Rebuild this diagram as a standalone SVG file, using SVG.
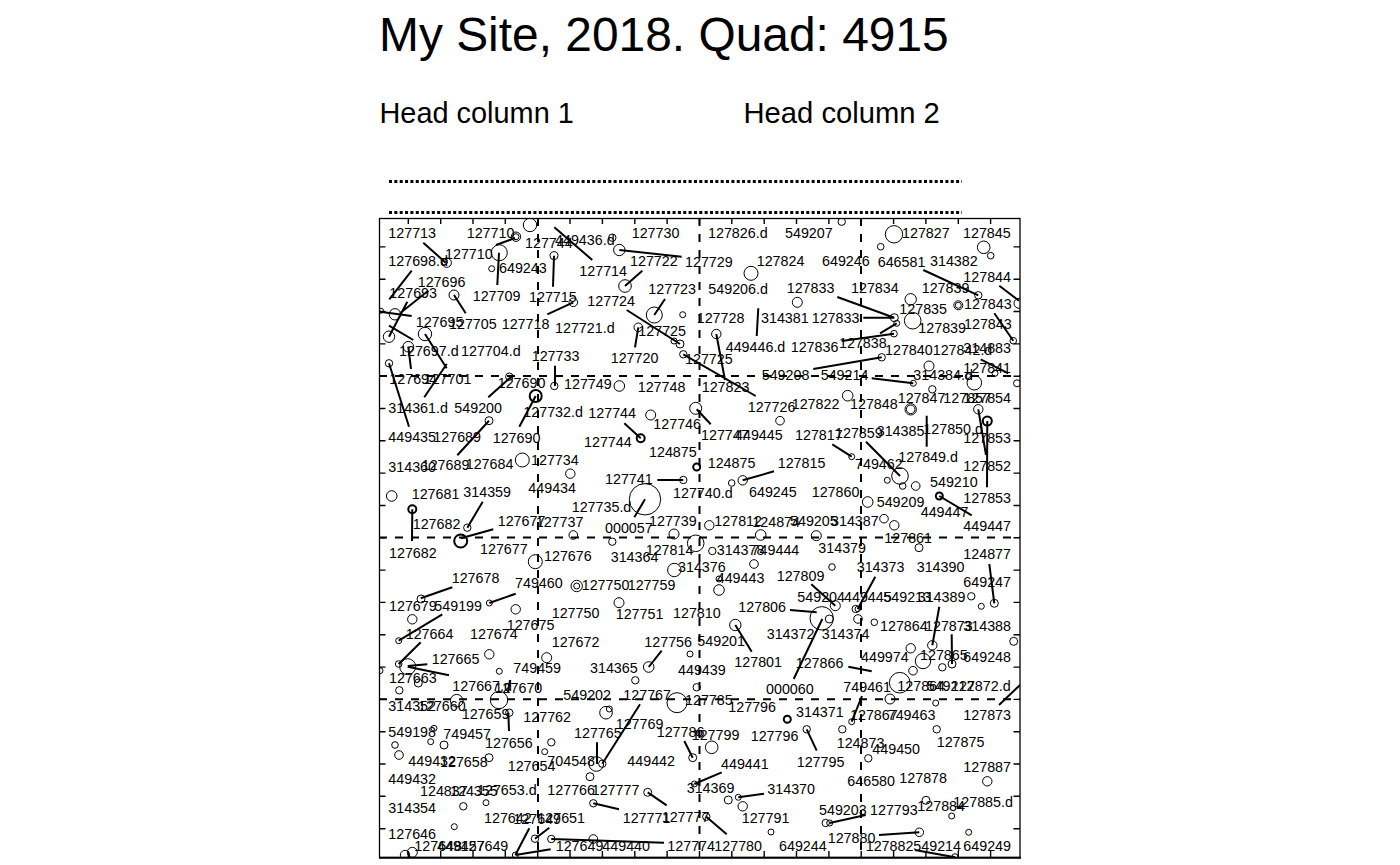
<svg xmlns="http://www.w3.org/2000/svg" width="1400" height="865" viewBox="0 0 1400 865">
<style>
text{font-family:"Liberation Sans",Arial,sans-serif;fill:#000}
.l text{font-size:14.3px}
.p circle{fill:none;stroke:#000;stroke-width:1}
.p .t{stroke-width:2}
.s{fill:none;stroke:#000;stroke-width:2}
.g{fill:none;stroke:#000;stroke-width:2;stroke-dasharray:8 8}
.d{fill:none;stroke:#000;stroke-width:3;stroke-dasharray:3 2.35}
</style>
<defs><clipPath id="plot"><rect x="379" y="218" width="641" height="640"/></clipPath></defs>
<rect width="1400" height="865" fill="#fff"/>
<g id="heading">
<text x="379" y="51" font-size="47.9">My Site, 2018. Quad: 4915</text>
<text x="379.500" y="122.500" font-size="28.900">Head column 1</text>
<text x="743.500" y="122.500" font-size="29.200">Head column 2</text>
<path class="d" d="M389 181.500H962M389 212.500H962"/>
</g>
<g id="grid">
<path class="g" d="M538 218V858M699.500 218V858M861 218V858M379 376H1020M379 537.500H1020M379 699.300H1020"/>
<path fill="none" stroke="#000" stroke-width="1.400" d="M408.300 218v6M440.700 218v6M473 218v6M505.300 218v6M537.700 218v6M570 218v6M602.400 218v6M634.800 218v6M667.100 218v6M699.500 218v6M731.800 218v6M764.200 218v6M796.500 218v6M828.900 218v6M861.200 218v6M893.600 218v6M925.900 218v6M958.300 218v6M990.600 218v6M408.300 858v-7M440.700 858v-7M473 858v-7M505.300 858v-7M537.700 858v-7M570 858v-7M602.400 858v-7M634.800 858v-7M667.100 858v-7M699.500 858v-7M731.800 858v-7M764.200 858v-7M796.500 858v-7M828.900 858v-7M861.200 858v-7M893.600 858v-7M925.900 858v-7M958.300 858v-7M990.600 858v-7M379 246.900h6.500M379 279.200h6.500M379 311.500h6.500M379 343.900h6.500M379 376.200h6.500M379 408.500h6.500M379 440.800h6.500M379 473.100h6.500M379 505.500h6.500M379 537.800h6.500M379 570.100h6.500M379 602.400h6.500M379 634.700h6.500M379 667.100h6.500M379 699.400h6.500M379 731.700h6.500M379 764h6.500M379 796.300h6.500M379 828.700h6.500M1020 246.900h-6.500M1020 279.200h-6.500M1020 311.500h-6.500M1020 343.900h-6.500M1020 376.200h-6.500M1020 408.500h-6.500M1020 440.800h-6.500M1020 473.100h-6.500M1020 505.500h-6.500M1020 537.800h-6.500M1020 570.100h-6.500M1020 602.400h-6.500M1020 634.700h-6.500M1020 667.100h-6.500M1020 699.400h-6.500M1020 731.700h-6.500M1020 764h-6.500M1020 796.300h-6.500M1020 828.700h-6.500"/>
</g>
<g id="points" class="p" clip-path="url(#plot)">
<circle cx="530" cy="225" r="6.700"/><circle cx="516" cy="236.700" r="4.700"/><circle cx="516" cy="236.700" r="3"/><circle cx="499.300" cy="252.700" r="8"/><circle cx="491.700" cy="268.700" r="3"/><circle cx="454" cy="295" r="5"/><circle cx="446.700" cy="262.700" r="4.700"/><circle cx="444.500" cy="261.700" r="3"/><circle cx="554" cy="255.700" r="4"/><circle cx="612.300" cy="237.700" r="3.700"/><circle cx="619.300" cy="250" r="5.700"/><circle cx="625" cy="286" r="6.300"/><circle cx="654.300" cy="315" r="8"/><circle cx="682.700" cy="314.700" r="3"/><circle cx="573.300" cy="302.300" r="4.300"/><circle cx="381" cy="310.700" r="2.500"/><circle cx="395" cy="314.300" r="5.700"/><circle cx="389" cy="336.700" r="5.700"/><circle cx="425" cy="334" r="6.700"/><circle cx="408.300" cy="346.700" r="5.300"/><circle cx="389" cy="363.300" r="3.700"/><circle cx="638.300" cy="327.300" r="4.300"/><circle cx="674" cy="341" r="3"/><circle cx="680" cy="344" r="4"/><circle cx="683.300" cy="354.300" r="3.700"/><circle cx="509.300" cy="376.700" r="3.700"/>
<circle cx="841.700" cy="221.700" r="3.700"/><circle cx="894" cy="234.300" r="8.700"/><circle cx="880.700" cy="246.700" r="3.300"/><circle cx="983.700" cy="247.300" r="6.300"/><circle cx="990.700" cy="255.700" r="3.300"/><circle cx="751" cy="273.300" r="7"/><circle cx="978.300" cy="295.300" r="3.700"/><circle cx="910.700" cy="299.300" r="5.700"/><circle cx="797.300" cy="302.300" r="5"/><circle cx="958.300" cy="305.300" r="4.500"/><circle cx="958.300" cy="305.300" r="3"/><circle cx="1019" cy="303.300" r="5"/><circle cx="894.300" cy="317.700" r="4"/><circle cx="896.700" cy="323.300" r="3"/><circle cx="912.700" cy="320.700" r="8.300"/><circle cx="894" cy="333.700" r="3.300"/><circle cx="716.300" cy="334" r="4.700"/><circle cx="1013.300" cy="340.700" r="3.300"/><circle cx="881.700" cy="357.300" r="3.700"/><circle cx="929" cy="366" r="5"/><circle cx="968.300" cy="376.700" r="3"/><circle cx="995" cy="373.300" r="3"/>
<circle class="t" cx="535.700" cy="396" r="6"/><circle cx="554.300" cy="386" r="3.700"/><circle cx="619.300" cy="386" r="5.300"/><circle cx="489" cy="420.700" r="4"/><circle cx="650.700" cy="415" r="5"/><circle cx="695.700" cy="408.300" r="6"/><circle class="t" cx="640.700" cy="438.300" r="4"/><circle cx="522.300" cy="460" r="7"/><circle class="t" cx="696.700" cy="467" r="3.500"/><circle cx="570.300" cy="473.700" r="4.700"/><circle cx="683.300" cy="480" r="3.700"/><circle cx="391.700" cy="496" r="5.300"/><circle cx="645" cy="499.300" r="15.700"/><circle class="t" cx="412.300" cy="509.300" r="4"/><circle cx="467.300" cy="527.700" r="3.700"/><circle class="t" cx="460.700" cy="541" r="6.500"/><circle cx="573.300" cy="535" r="4.300"/><circle cx="612.300" cy="541.700" r="3.700"/><circle cx="674" cy="534" r="5"/><circle cx="695.700" cy="543.300" r="8.300"/>
<circle cx="974.300" cy="382.700" r="7.300"/><circle cx="913.300" cy="383.300" r="3"/><circle cx="932.300" cy="389.300" r="3.700"/><circle cx="1017" cy="383.300" r="3.500"/><circle cx="847.700" cy="395.700" r="5.300"/><circle cx="910.700" cy="409.300" r="5.700"/><circle cx="910.700" cy="409.300" r="4.300"/><circle cx="978.300" cy="409.300" r="4.700"/><circle class="t" cx="987.300" cy="421" r="4.500"/><circle cx="780" cy="420.700" r="4.300"/><circle cx="851.700" cy="456.700" r="3"/><circle cx="900" cy="476" r="8.300"/><circle cx="887.300" cy="480.300" r="3"/><circle cx="902.700" cy="486" r="3.300"/><circle cx="915.700" cy="486" r="4.300"/><circle cx="742.700" cy="480.300" r="4.700"/><circle cx="731.700" cy="483" r="3.300"/><circle class="t" cx="939.300" cy="496" r="3.500"/><circle cx="867.700" cy="502" r="5.300"/><circle cx="884" cy="518.700" r="4.300"/><circle cx="894.300" cy="525.300" r="4.700"/><circle cx="709.300" cy="525.300" r="4.700"/><circle cx="760.700" cy="535" r="5.300"/><circle cx="816.300" cy="535.700" r="5"/>
<circle cx="535.300" cy="561.700" r="7"/><circle cx="576.700" cy="586" r="5.700"/><circle cx="576.700" cy="586" r="3"/><circle cx="674.300" cy="570" r="6.700"/><circle cx="421" cy="599" r="4"/><circle cx="489.300" cy="603" r="3"/><circle cx="515.700" cy="609.300" r="4.700"/><circle cx="619" cy="602.700" r="5"/><circle cx="412.300" cy="619.300" r="4.700"/><circle cx="398.700" cy="640.700" r="3"/><circle cx="489.300" cy="654.300" r="4.700"/><circle cx="546.700" cy="657.700" r="5"/><circle cx="690" cy="654" r="3"/><circle cx="398.700" cy="664" r="3.300"/><circle cx="407.700" cy="666.700" r="8"/><circle cx="380" cy="670.700" r="3"/><circle cx="499.300" cy="671.300" r="3"/><circle cx="648.700" cy="667" r="5.300"/><circle cx="418.300" cy="683" r="4"/><circle cx="399.300" cy="690.300" r="3.700"/><circle cx="635.300" cy="680.300" r="3.700"/><circle cx="696.700" cy="687.300" r="3.700"/><circle cx="456.700" cy="700.700" r="6.300"/><circle cx="499" cy="700" r="8.700"/><circle cx="677" cy="702.700" r="10"/>
<circle cx="712.300" cy="551" r="3.700"/><circle cx="754" cy="564" r="4.300"/><circle cx="832" cy="567" r="3.300"/><circle cx="919" cy="547.700" r="4"/><circle cx="719" cy="590" r="5.300"/><circle cx="719" cy="579" r="3"/><circle cx="971.300" cy="596.300" r="3.700"/><circle cx="981.300" cy="606.300" r="3"/><circle cx="994.300" cy="603.300" r="4"/><circle cx="835.300" cy="605.700" r="5"/><circle cx="855.700" cy="609" r="3.700"/><circle cx="857.700" cy="609" r="2.700"/><circle cx="858" cy="619" r="4.300"/><circle cx="821.700" cy="618.300" r="11.700"/><circle cx="829.300" cy="619" r="4"/><circle cx="735.300" cy="625" r="5.700"/><circle cx="874.300" cy="622.300" r="3.300"/><circle cx="1013.700" cy="641.300" r="4"/><circle cx="932.300" cy="645.300" r="4.700"/><circle cx="910.700" cy="648.300" r="4.700"/><circle cx="923" cy="661" r="7.700"/><circle cx="942.300" cy="667.300" r="3.700"/><circle cx="952" cy="664" r="4"/><circle cx="913" cy="670.700" r="4.300"/><circle cx="899.700" cy="682.700" r="10.300"/><circle cx="890" cy="699" r="5"/><circle cx="935.700" cy="703" r="3"/>
<circle cx="509.300" cy="712.700" r="3.700"/><circle cx="606" cy="712.700" r="6.300"/><circle cx="609.300" cy="709" r="3"/><circle cx="434" cy="728.300" r="3"/><circle cx="430.700" cy="741.700" r="3"/><circle cx="444" cy="745" r="4"/><circle cx="395" cy="745" r="3.300"/><circle cx="399" cy="755" r="4.300"/><circle cx="489" cy="757.700" r="4"/><circle cx="551.300" cy="742.300" r="3.700"/><circle cx="544.700" cy="751.700" r="3"/><circle cx="596.300" cy="764" r="7.300"/><circle cx="602.300" cy="763.700" r="3.700"/><circle cx="692.700" cy="757.700" r="4"/><circle cx="590" cy="776.700" r="4"/><circle cx="694.300" cy="784" r="3"/><circle cx="647.700" cy="792.300" r="4"/><circle cx="463.300" cy="806.300" r="3.700"/><circle cx="486" cy="802.700" r="3"/><circle cx="593.300" cy="803.300" r="3.700"/><circle cx="454.300" cy="826.700" r="3"/><circle cx="535" cy="838.700" r="3.700"/><circle cx="551.300" cy="839" r="3.700"/><circle cx="593.300" cy="839" r="4.300"/><circle cx="515.300" cy="855" r="3"/><circle cx="405" cy="855" r="4.700"/><circle cx="412.300" cy="852.300" r="5"/>
<circle class="t" cx="787.300" cy="719.300" r="3.500"/><circle cx="806.700" cy="729.300" r="3.700"/><circle cx="842.300" cy="729.300" r="3.700"/><circle cx="851.700" cy="721.700" r="3"/><circle cx="936.700" cy="729.300" r="3.700"/><circle cx="711.700" cy="747.300" r="6.300"/><circle cx="699" cy="733" r="3"/><circle cx="868.300" cy="758.300" r="3.700"/><circle cx="987.300" cy="781.300" r="4.700"/><circle cx="728.300" cy="800" r="4"/><circle cx="738.300" cy="797.300" r="3"/><circle cx="742.700" cy="806.300" r="4.700"/><circle cx="926" cy="800.300" r="4"/><circle cx="951.700" cy="816" r="3"/><circle cx="706.300" cy="816.700" r="3.700"/><circle cx="825.700" cy="823" r="3.700"/><circle cx="829.700" cy="823" r="3"/><circle cx="771" cy="832" r="3"/><circle cx="919.300" cy="832.300" r="4.300"/><circle cx="968.700" cy="832.300" r="3"/><circle cx="955" cy="856.700" r="3"/>
</g>
<g id="connectors" clip-path="url(#plot)">
<path class="s" d="M423.300 242.700L445.700 262.700M496 245L515 238M499 252.700L497.300 285M554.300 227.300L592.300 260M554 255.700L553 286.700M619.300 250L681.700 256.700M642.300 270.700L625 286M665 299L654.300 315M411.700 270.700L389.300 299.300M428.300 290.700L400 313.300M454 295L465.700 313.300M380 311.700L411.700 316M407.300 301.700L389 336.700M389 325.700L413.300 340M408.300 346.700L411 369M425 334L446.700 368.300M446.700 364L424.300 397.300M389 363.300L409 426.700M573.300 302.300L547.300 314.300M626.700 310L680 344M638.300 327.300L635 347.300M555 365.700V386M683.300 354.300L755.700 396M488.300 397.300L513.300 375M923.300 270L978.300 295.300M999.300 285.700L1019 300.700M837.300 297L894.300 317.700M863.300 317.700H894.300M880 333.300L896.700 323.300M841.700 341L894 333.700M813.300 369L881.700 357.300M758.300 308.300L756.700 336M716.300 334L725 380M994.300 313.300L1013.300 340.700M980.700 359.300L1008.300 373.300M871.700 378.300L913.300 383.300M978.300 409.300L986 455M987.300 421L987 487.300M926.700 415.700V446.700M866 441.700L900 476M832.300 444.300L851.700 456.700M742.700 480.300L774 471.300M939.300 496L971.700 515.300M696.700 409.300L710.700 424.300M535.700 396L519.300 426.700M489 420.700L457.300 455.300M624.300 423.300L640.700 438.300M657.300 480H683.300M645 499.300L634.300 517.300M482.700 501.700L467.300 527.700M412.300 509.300L412 541M461 538.300L493.300 529.300M420.700 598.300L452.300 587.300M489.300 603L515.700 593.700M398.700 640.700L442.300 614.300M398.700 664L420.700 642.300M407.700 666L427.300 664.300M407.700 666.700L449 675.300M661.700 650.700L648.700 667M510 680L508 692M811.300 584.300L835.300 605.700M790 610L816.700 612.300M822.300 619L793.700 679M735.300 625L751.700 651.700M875.300 576.700L857.700 609M989.300 564L994.300 603.300M939.300 606.700L932.300 645.300M951.700 634.300L952 664M848.300 666.700L871.700 671.300M1020 685L999 705M508.300 712.700L509 731M640 704.300L602.300 763.700M597 742.300V764M684.300 741L692.700 757.700M694.300 784L721.700 772.300M647.700 792.300L666.700 805.300M593.300 803.300L619 809.300M529.300 828.300L515.300 855M549.300 827.700L535 838.700M515.300 855L550.700 849.300M551.300 839L664 842.700M706.300 816.700L726.700 834.300M738.300 797.300L764 793.700M806.700 729.300L816.700 750.700M851.700 721.700L862 696M829.700 823L865.700 815M879 835L919.300 832.300M915 850L955 857.300M957 808L963 806"/>
</g>
<rect id="frame" x="379.500" y="218.500" width="640.500" height="639" fill="none" stroke="#000" stroke-width="1.300"/>
<path d="M379 857.700H1021" stroke="#000" stroke-width="2" fill="none"/>
<g id="labels" class="l">
<text x="388.300" y="237.700">127713</text><text x="466.700" y="237.700">127710</text><text x="525" y="248.300">127744</text><text x="555" y="245">449436.d</text><text x="631.700" y="237.700">127730</text><text x="708" y="238">127826.d</text><text x="785" y="238">549207</text><text x="902" y="238">127827</text><text x="963" y="238">127845</text>
<text x="445" y="259.300">127710</text><text x="388.300" y="266">127698.d</text><text x="499" y="273.300">649243</text><text x="630" y="265.700">127722</text><text x="685" y="266.700">127729</text><text x="756.700" y="265.700">127824</text><text x="822" y="265.700">649246</text><text x="877.700" y="266.700">646581</text><text x="930" y="265.700">314382</text><text x="579.300" y="275.700">127714</text><text x="963.300" y="281.700">127844</text>
<text x="417.700" y="286.700">127696</text><text x="389.300" y="298.300">127693</text><text x="472.700" y="300.700">127709</text><text x="529" y="301.700">127715</text><text x="648.300" y="294.300">127723</text><text x="587.300" y="305.700">127724</text><text x="708.300" y="294.300">549206.d</text><text x="786.700" y="293.300">127833</text><text x="851" y="293.300">127834</text><text x="921.700" y="293.300">127839</text><text x="964" y="309.300">127843</text><text x="899.300" y="314">127835</text>
<text x="415.700" y="326.700">127695</text><text x="449" y="329">127705</text><text x="501.700" y="329.300">127718</text><text x="555" y="332.700">127721.d</text><text x="638.300" y="335.700">127725</text><text x="696.700" y="323.300">127728</text><text x="761" y="323.300">314381</text><text x="811.700" y="322.700">127833</text><text x="918.300" y="333.300">127839</text><text x="964" y="329.300">127843</text>
<text x="399" y="356">127697.d</text><text x="461" y="356">127704.d</text><text x="531.700" y="360.700">127733</text><text x="610.700" y="363.300">127720</text><text x="725.700" y="351.700">449446.d</text><text x="790.700" y="351.700">127836</text><text x="839" y="348.300">127838</text><text x="885" y="355">127840</text><text x="932.700" y="355">127842.d</text><text x="963.300" y="353.300">314883</text><text x="685" y="364.300">127725</text>
<text x="389.300" y="384">127694</text><text x="423.700" y="384">127701</text><text x="497.700" y="388.300">127690</text><text x="564" y="389.300">127749</text><text x="637.700" y="392.300">127748</text><text x="761.700" y="380">549208</text><text x="820.700" y="380">549214</text><text x="913.300" y="380">314384.d</text><text x="963.300" y="373.300">127841</text><text x="701.700" y="392.300">127823</text>
<text x="897.700" y="403.300">127847</text><text x="943.300" y="402.700">127857</text><text x="963.300" y="403.300">127854</text><text x="747.700" y="411.700">127726</text><text x="791.700" y="409.300">127822</text><text x="850" y="409">127848</text><text x="388.300" y="412.700">314361.d</text><text x="454.300" y="413.300">549200</text><text x="523.300" y="417.300">127732.d</text><text x="588.300" y="418.300">127744</text><text x="653.300" y="429.300">127746</text>
<text x="584" y="446.700">127744</text><text x="388.300" y="441.700">449435</text><text x="433.300" y="441.700">127689</text><text x="492.700" y="442.700">127690</text><text x="701" y="440">127747</text><text x="735" y="440">449445</text><text x="795" y="440">127817</text><text x="835" y="437.700">127859</text><text x="876.700" y="435.700">314385</text><text x="923.300" y="434">127850.d</text><text x="963.300" y="442.700">127853</text>
<text x="649" y="457.300">124875</text><text x="898.300" y="462.300">127849.d</text><text x="855" y="469">749462</text><text x="388.300" y="471.700">314360</text><text x="421.700" y="470">127689</text><text x="465.700" y="469.300">127684</text><text x="531" y="465">127734</text><text x="707.700" y="468.300">124875</text><text x="777.700" y="468.300">127815</text><text x="963.300" y="470.700">127852</text>
<text x="605" y="484.300">127741</text><text x="930" y="486.700">549210</text><text x="528.300" y="493.300">449434</text><text x="411.700" y="499.300">127681</text><text x="463.300" y="497.300">314359</text><text x="673" y="497.700">127740.d</text><text x="749" y="496.700">649245</text><text x="811.700" y="496.700">127860</text><text x="876.700" y="506.700">549209</text><text x="963.300" y="502.700">127853</text>
<text x="571.700" y="512.300">127735.d</text><text x="920.700" y="516.700">449447</text><text x="963.300" y="530.700">449447</text><text x="412.700" y="529.300">127682</text><text x="497.700" y="526">127677</text><text x="535.700" y="526.700">127737</text><text x="649" y="525.700">127739</text><text x="605" y="533.300">000057</text><text x="714.300" y="525.700">127812</text><text x="752.300" y="526.700">124874</text><text x="790" y="525.700">549205</text><text x="831" y="525.700">314387</text><text x="884.300" y="543.300">127861</text>
<text x="389" y="557.700">127682</text><text x="480" y="554.300">127677</text><text x="544" y="560.700">127676</text><text x="610.700" y="561.700">314364</text><text x="645.700" y="555">127814</text><text x="716.700" y="555">314378</text><text x="751.600" y="555">749444</text><text x="818.300" y="553.300">314379</text><text x="678" y="571.700">314376</text><text x="856.700" y="572.300">314373</text><text x="916.700" y="572.300">314390</text><text x="963.300" y="559.300">124877</text>
<text x="716.700" y="583.300">449443</text><text x="776.700" y="580.700">127809</text><text x="451.700" y="582.700">127678</text><text x="515" y="588.300">749460</text><text x="581.700" y="590">127750</text><text x="627.700" y="590">127759</text><text x="963.300" y="587.300">649247</text><text x="797.300" y="601.700">549204</text><text x="844" y="601.700">449445</text><text x="883.300" y="601.700">549213</text><text x="917.700" y="601.700">314389</text>
<text x="389" y="610.700">127679</text><text x="434.300" y="610.700">549199</text><text x="738.300" y="611.700">127806</text><text x="551.700" y="617.700">127750</text><text x="615.700" y="619">127751</text><text x="673" y="617.700">127810</text><text x="506.700" y="630">127675</text><text x="880" y="630.700">127864</text><text x="925" y="630.700">127873</text><text x="963.300" y="630.700">314388</text>
<text x="405.700" y="639">127664</text><text x="470" y="639.300">127674</text><text x="766.700" y="639.300">314372</text><text x="821.700" y="639.300">314374</text><text x="551.700" y="646.700">127672</text><text x="644.300" y="646.700">127756</text><text x="697.300" y="645.700">549201</text><text x="920" y="660">127865</text><text x="963.300" y="661.700">649248</text><text x="861" y="662.300">449974</text>
<text x="431.700" y="664.300">127665</text><text x="734.300" y="666.700">127801</text><text x="795.700" y="667.700">127866</text><text x="513.300" y="673.300">749459</text><text x="590" y="672.700">314365</text><text x="678" y="675">449439</text><text x="389" y="683.300">127663</text><text x="452.300" y="690.700">127667.d</text><text x="494.600" y="693.300">127670</text><text x="766" y="694.300">000060</text><text x="843.300" y="691.700">749461</text><text x="897.300" y="691">127864</text><text x="926.700" y="691">549212</text><text x="951" y="691">127872.d</text>
<text x="563.300" y="700">549202</text><text x="623.300" y="700">127767</text><text x="685" y="705">127785</text><text x="728.300" y="712.300">127796</text><text x="388.300" y="710.700">314352</text><text x="418" y="710.700">127660</text><text x="461.700" y="719.300">127659</text><text x="523.300" y="721.700">127762</text><text x="615.700" y="729.300">127769</text><text x="656.700" y="737.300">127786</text><text x="691.700" y="740">127799</text><text x="963.300" y="720">127873</text><text x="796" y="717.300">314371</text><text x="850" y="720">127867</text><text x="887.700" y="720">749463</text>
<text x="388.300" y="737.300">549198</text><text x="443.300" y="739.300">749457</text><text x="574" y="738.300">127765</text><text x="750.700" y="740.700">127796</text><text x="836.700" y="748.300">124873</text><text x="936.700" y="747.300">127875</text><text x="485" y="747.700">127656</text><text x="872.300" y="754.300">449450</text><text x="408.300" y="765.700">449432</text><text x="440" y="767.300">127658</text><text x="547.300" y="766">704548</text><text x="507.700" y="770.700">127654</text><text x="627.300" y="765.700">449442</text><text x="796.700" y="766.700">127795</text><text x="721" y="769">449441</text><text x="963.300" y="772.300">127887</text>
<text x="847.300" y="785.700">646580</text><text x="899.300" y="783.300">127878</text><text x="388.300" y="784.300">449432</text><text x="420" y="795.700">124837</text><text x="450" y="795.700">124355</text><text x="477" y="795">127653.d</text><text x="547.300" y="795">127766</text><text x="591.700" y="795">127777</text><text x="686.700" y="792.700">314369</text><text x="767.300" y="794.300">314370</text><text x="917.300" y="810.700">127884</text><text x="953.300" y="807.300">127885.d</text>
<text x="388.300" y="812.700">314354</text><text x="819" y="815">549203</text><text x="870" y="815">127793</text><text x="622.700" y="822.700">127771</text><text x="661.700" y="821.700">127777</text><text x="741.700" y="822.700">127791</text><text x="484" y="823.300">127642</text><text x="513.300" y="824">127649</text><text x="537.300" y="823.300">127651</text><text x="388.300" y="839.300">127646</text><text x="827.700" y="842.700">127880</text>
<text x="414.300" y="850.700">127648</text><text x="437" y="850.700">449457</text><text x="460.600" y="850.700">127649</text><text x="555.700" y="850.700">127649</text><text x="602.300" y="850.700">449440</text><text x="667.300" y="850.700">127774</text><text x="714.300" y="850.700">127780</text><text x="779" y="850.700">649244</text><text x="865.700" y="850.700">127882</text><text x="913.300" y="850.700">549214</text><text x="963.300" y="850.700">649249</text>
</g>
</svg>
